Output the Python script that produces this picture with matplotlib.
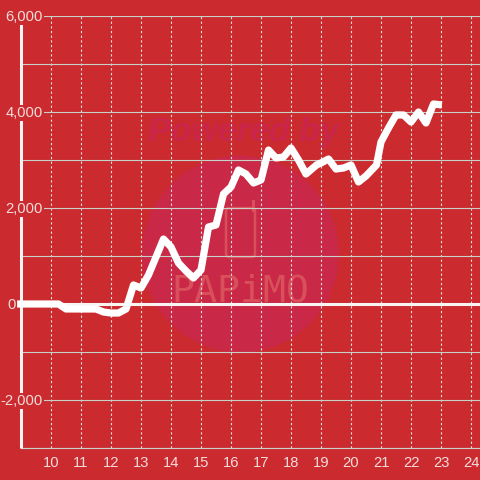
import matplotlib
matplotlib.use('Agg')
import matplotlib.pyplot as plt
from matplotlib.patches import Circle, FancyBboxPatch

plt.rcParams['font.family'] = ['Liberation Sans', 'DejaVu Sans']

hours = [8.87, 10, 10.25, 10.5, 11, 11.5, 11.75, 12, 12.25, 12.5, 12.75, 13, 13.25,
         13.5, 13.75, 14, 14.25, 14.5, 14.75, 15, 15.25, 15.5, 15.75, 16, 16.25,
         16.5, 16.75, 17, 17.25, 17.5, 17.75, 18, 18.25, 18.5, 18.85, 19, 19.25,
         19.5, 19.75, 20, 20.25, 20.5, 20.85, 21, 21.25, 21.5, 21.75, 22, 22.25,
         22.5, 22.75, 23.03]
values = [0, 0, 0, -104, -104, -104, -167, -188, -188, -104, 396, 333, 604,
          979, 1354, 1188, 854, 688, 542, 708, 1604, 1646, 2292, 2438, 2792,
          2708, 2521, 2583, 3208, 3042, 3062, 3250, 3000, 2708, 2896, 2938, 3021,
          2812, 2833, 2896, 2542, 2667, 2896, 3375, 3667, 3938, 3938, 3792, 4000,
          3771, 4167, 4146]
x_ticks = list(range(10, 25))
y_grid = list(range(-3000, 7000, 1000))
y_labels = {6000: '6,000', 4000: '4,000', 2000: '2,000', -2000: '-2,000'}

red = '#cb2a2e'
fig = plt.figure(figsize=(4.8, 4.8), dpi=100, facecolor=red)

# watermark sits behind the chart, in pixel coords
bg = fig.add_axes([0, 0, 1, 1])
bg.set_xlim(0, 480)
bg.set_ylim(480, 0)
bg.axis('off')
bg.add_patch(Circle((240.5, 254), 98.5, color='#c92846', lw=0))
bg.add_patch(FancyBboxPatch((226, 208), 29, 49, boxstyle='round,pad=0,rounding_size=3',
                            fc='none', ec='#d9505c', lw=1.8))
bg.plot([253, 253], [201, 210], color='#d9505c', lw=2.2)
bg.text(243, 133, 'Powered by', color='#c9264a', fontsize=24.5, fontweight='bold',
        fontstyle='italic', ha='center', va='center')
bg.text(240, 291, 'PAPiMO', color='#d9505c', fontsize=27.5, family='DejaVu Sans Mono',
        ha='center', va='center')

ax = fig.add_axes([21 / 480, 1 - 448 / 480, 459 / 480, 432 / 480])
ax.patch.set_visible(False)
ax.set_xlim(9, 24.3)
ax.set_ylim(-3000, 6000)

for s in ['top', 'right']:
    ax.spines[s].set_visible(False)
ax.spines['left'].set_color('#f4f4f4')
ax.spines['left'].set_linewidth(2.2)
ax.spines['left'].set_zorder(3)
ax.spines['left'].set_capstyle('butt')
ax.spines['bottom'].set_color('#c8d0c8')
ax.spines['bottom'].set_linewidth(0.8)

ax.set_xticks(x_ticks)
ax.set_yticks(y_grid)
ax.set_yticklabels([])
ax.tick_params(length=0, labelsize=10.6, labelcolor='#f5dcdc', pad=6)
ax.grid(axis='y', color='#c8d0c8', lw=0.8)
ax.grid(axis='x', color='#dfe6df', lw=0.8, linestyle=(0, (2, 2.2)))
ax.set_axisbelow(True)

ax.axhline(0, color='#f8f4f4', lw=2.2, zorder=2)
ax.plot(hours, values, color='white', lw=5.2, solid_joinstyle='round',
        solid_capstyle='butt', clip_on=False, zorder=4)

trans = ax.get_yaxis_transform()
for v, s in y_labels.items():
    ax.annotate(s, xy=(0, v), xycoords=trans, xytext=(22, -1), textcoords='offset pixels',
                ha='right', va='center', fontsize=10.6, color='#f5dcdc', zorder=5,
                annotation_clip=False,
                bbox=dict(fc=red, ec='none', pad=0.8))
ax.annotate('0', xy=(0, 0), xycoords=trans, xytext=(-5, -1), textcoords='offset pixels',
            ha='right', va='center', fontsize=10.6, color='#f5dcdc', zorder=5)

fig.savefig('out.png', dpi=100, facecolor=red)
